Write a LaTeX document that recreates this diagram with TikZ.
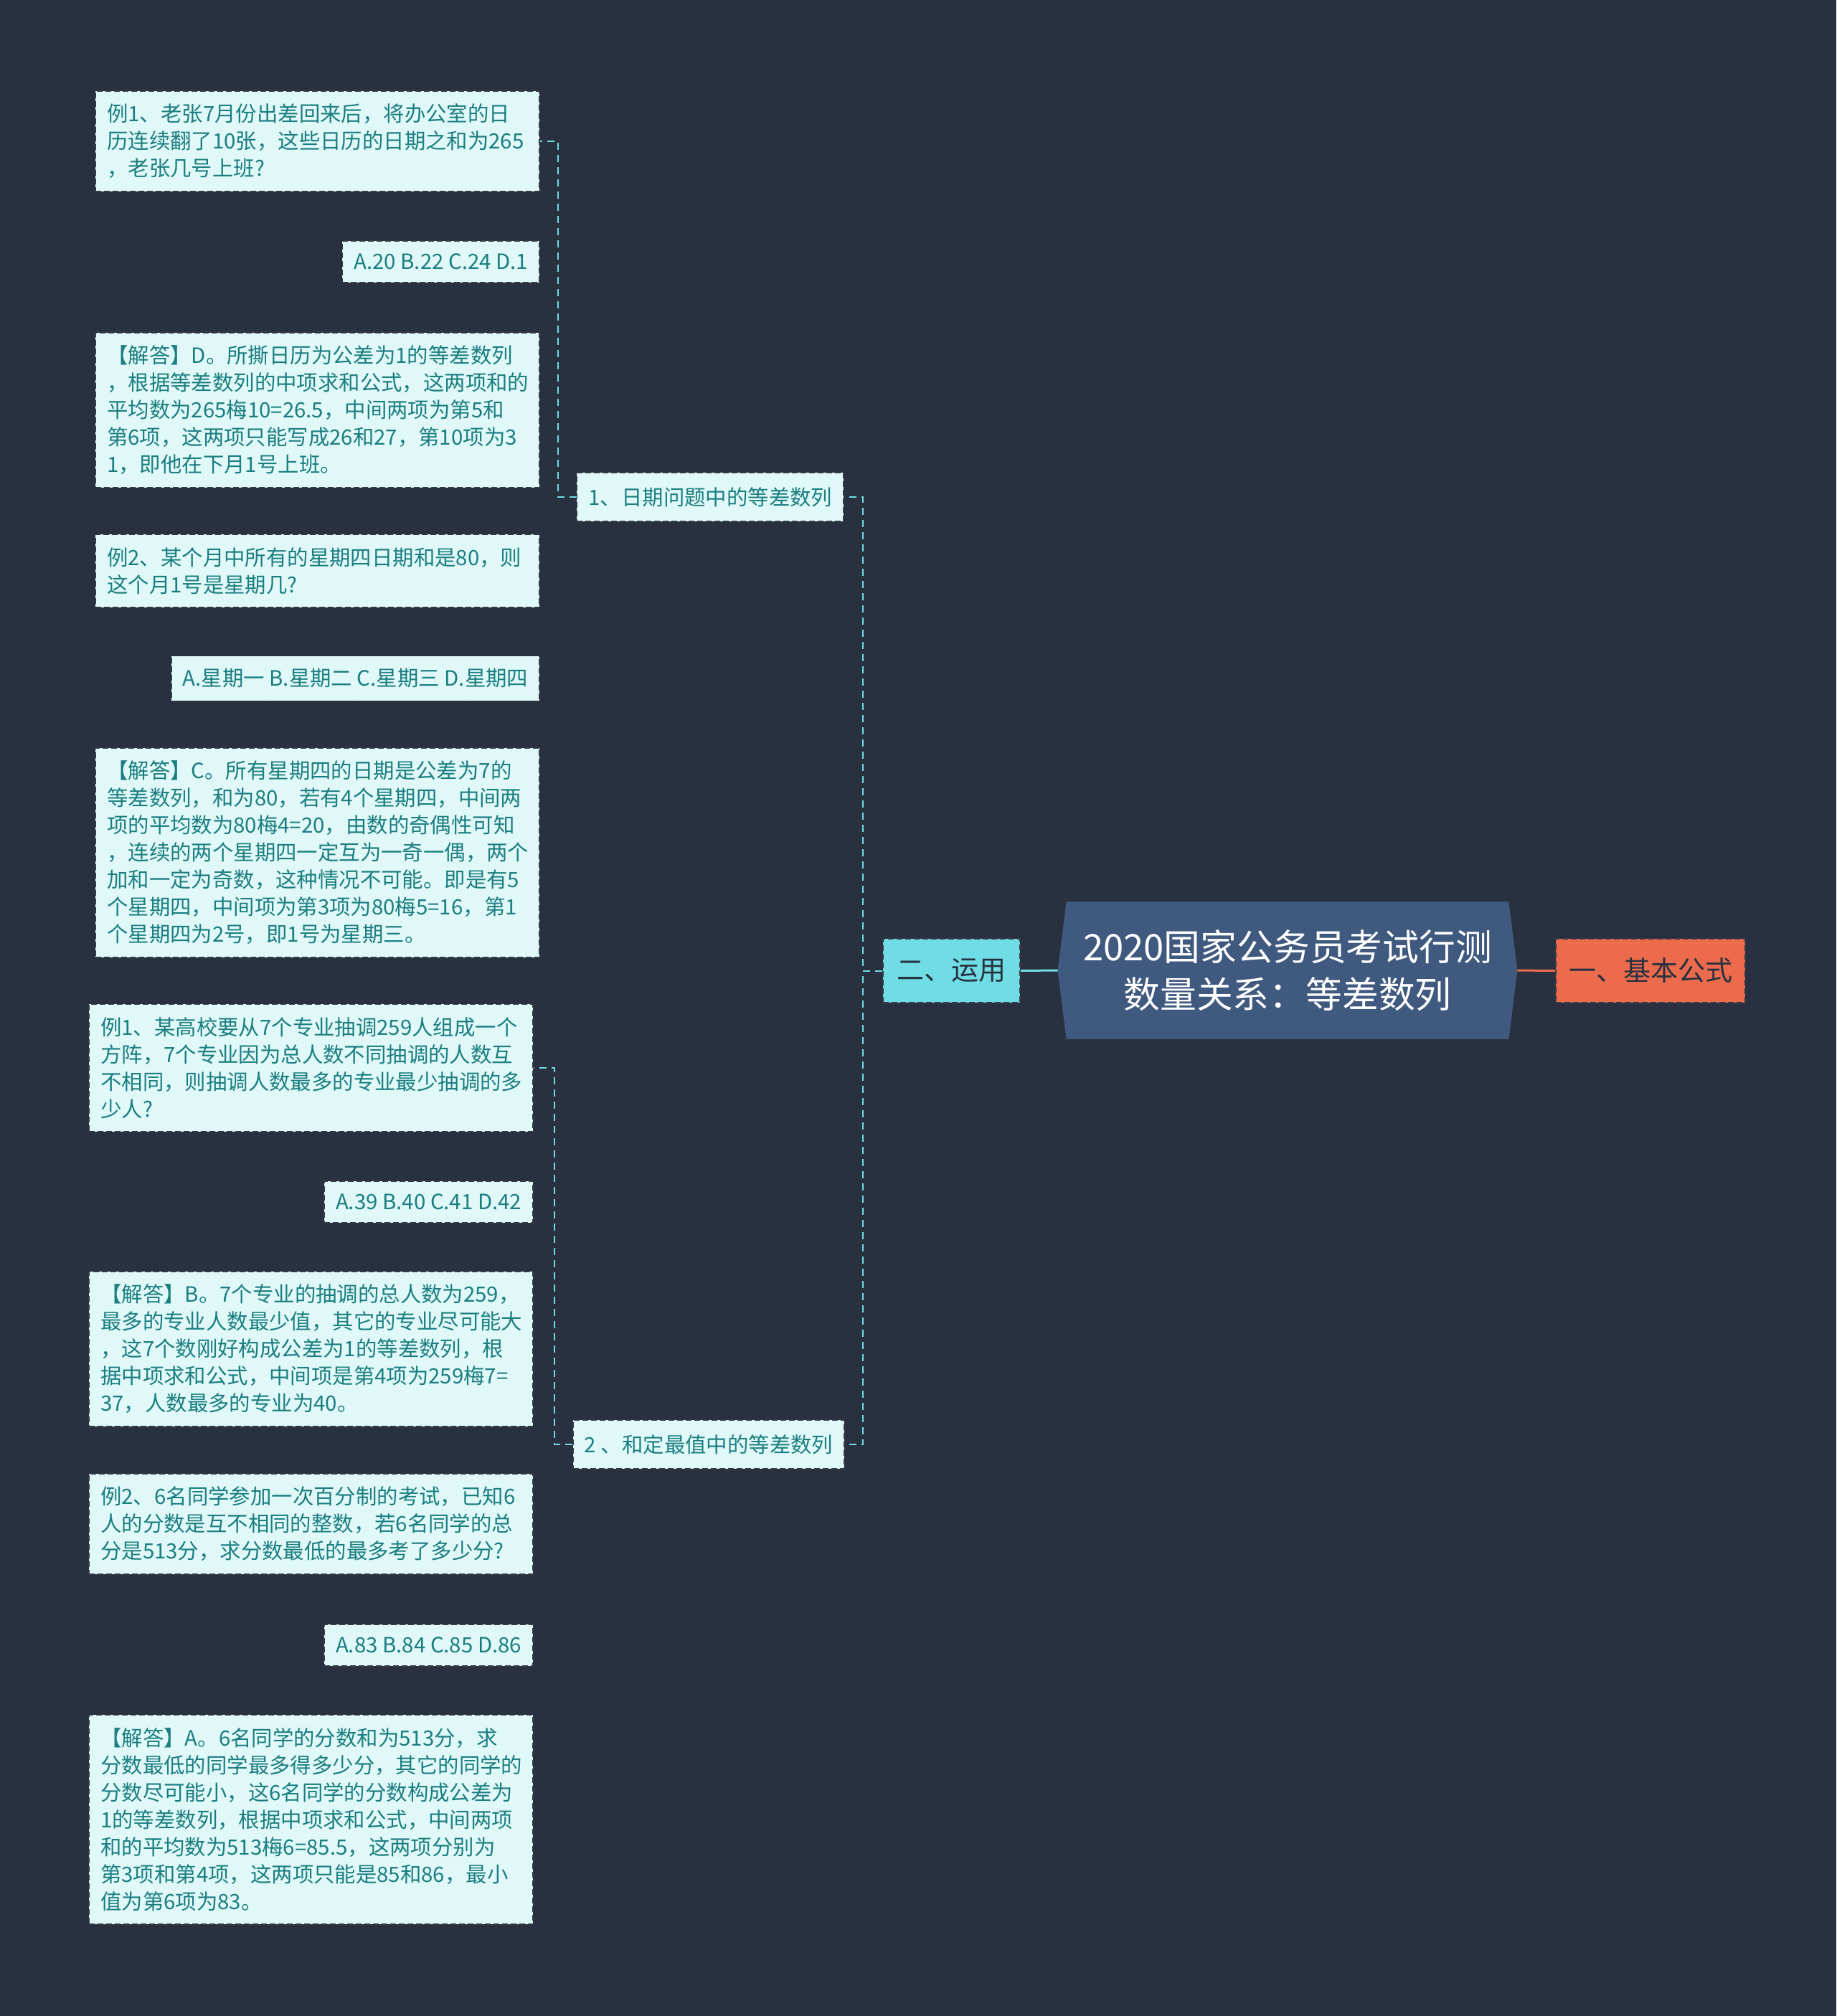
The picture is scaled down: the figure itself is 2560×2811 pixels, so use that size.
\documentclass[tikz,border=0pt]{standalone}
\usepackage{fontspec}
\setmainfont{Noto Sans CJK SC}
\usetikzlibrary{calc,backgrounds}

\definecolor{bgnavy}{RGB}{41,49,64}
\definecolor{rootblue}{RGB}{63,89,127}
\definecolor{armcyan}{RGB}{111,221,227}
\definecolor{armorange}{RGB}{237,107,77}
\definecolor{leaffill}{RGB}{224,248,248}
\definecolor{leaftext}{RGB}{27,126,128}
\definecolor{boxedge}{RGB}{52,58,70}

\tikzset{
  leaf/.style={draw=boxedge, line width=0.8pt, dash pattern=on 4pt off 2pt,
    fill=leaffill, text=leaftext, font=\fontsize{14.7pt}{19pt}\selectfont,
    align=left, inner xsep=8pt, inner ysep=9pt, anchor=east},
  wideleaf/.style={leaf, text width=293.5pt},
  sub/.style={leaf, minimum height=34pt},
  arm/.style={draw=boxedge, line width=0.8pt, dash pattern=on 4pt off 2pt,
    text=bgnavy, font=\fontsize{19pt}{24pt}\selectfont,
    minimum height=44.5pt},
  twig/.style={draw=armcyan, line width=1pt, dash pattern=on 5pt off 3.5pt},
  stem/.style={line width=1.5pt}
}

\begin{document}
\begin{tikzpicture}[x=0.5pt, y=-0.5pt]
		%%%%% START %%%%%
		
		\begin{pgfonlayer}{background}
		\fill[bgnavy] (0, 0) rectangle (2560, 2811);
		\end{pgfonlayer}
		
		% centre and the two arms
		\node[align=center, text=white, font=\fontsize{25.4pt}{33pt}\selectfont,
		  minimum width=308pt, minimum height=95.5pt] (title) at (1795, 1353)
		  {2020国家公务员考试行测\\数量关系：等差数列};
		\coordinate (tipL) at ($(title.west)+(-12,0)$);
		\coordinate (tipR) at ($(title.east)+(12,0)$);
		\begin{pgfonlayer}{background}
		\fill[rootblue] (title.north west) -- (title.north east) -- (tipR)
		  -- (title.south east) -- (title.south west) -- (tipL) -- cycle;
		\end{pgfonlayer}
		
		\node[arm, fill=armcyan, minimum width=95.5pt] (yong) at (1326.5, 1353.5) {二、运用};
		\node[arm, fill=armorange, minimum width=132pt] (gongshi) at (2301, 1353.5) {一、基本公式};
		
		\draw[stem, armcyan] (tipL) -- (yong.east);
		\draw[stem, armorange] (tipR) -- (gongshi.west);
		
		% second level
		\node[sub] (riqi) at (1177, 693) {1、日期问题中的等差数列};
		\node[sub] (heding) at (1178, 2014) {2 、和定最值中的等差数列};
		
		\draw[twig] (yong.west) -- ++(-27, 0) |- (riqi.east);
		\draw[twig] (yong.west) -- ++(-27, 0) |- (heding.east);
		
		% leaves under 1
		\node[wideleaf] (a1) at (753, 197) {例1、老张7月份出差回来后，将办公室的日\\历连续翻了10张，这些日历的日期之和为265\\，老张几号上班?};
		\node[leaf] (a2) at (753, 365) {A.20 B.22 C.24 D.1};
		\node[wideleaf] (a3) at (753, 572) {【解答】D。所撕日历为公差为1的等差数列\\，根据等差数列的中项求和公式，这两项和的\\平均数为265梅10=26.5，中间两项为第5和\\第6项，这两项只能写成26和27，第10项为3\\1，即他在下月1号上班。};
		\node[wideleaf] (a4) at (753, 796) {例2、某个月中所有的星期四日期和是80，则\\这个月1号是星期几?};
		\node[leaf] (a5) at (753, 946) {A.星期一 B.星期二 C.星期三 D.星期四};
		\node[wideleaf] (a6) at (753, 1189) {【解答】C。所有星期四的日期是公差为7的\\等差数列，和为80，若有4个星期四，中间两\\项的平均数为80梅4=20，由数的奇偶性可知\\，连续的两个星期四一定互为一奇一偶，两个\\加和一定为奇数，这种情况不可能。即是有5\\个星期四，中间项为第3项为80梅5=16，第1\\个星期四为2号，即1号为星期三。};
		
		\foreach \n in {a1,...,a6}
		  \draw[twig] (riqi.west) -- ++(-26, 0) |- (\n.east);
		
		% leaves under 2
		\node[wideleaf] (b1) at (744, 1489) {例1、某高校要从7个专业抽调259人组成一个\\方阵，7个专业因为总人数不同抽调的人数互\\不相同，则抽调人数最多的专业最少抽调的多\\少人?};
		\node[leaf] (b2) at (744, 1676) {A.39 B.40 C.41 D.42};
		\node[wideleaf] (b3) at (744, 1881) {【解答】B。7个专业的抽调的总人数为259，\\最多的专业人数最少值，其它的专业尽可能大\\，这7个数刚好构成公差为1的等差数列，根\\据中项求和公式，中间项是第4项为259梅7=\\37，人数最多的专业为40。};
		\node[wideleaf] (b4) at (744, 2125) {例2、6名同学参加一次百分制的考试，已知6\\人的分数是互不相同的整数，若6名同学的总\\分是513分，求分数最低的最多考了多少分?};
		\node[leaf] (b5) at (744, 2294) {A.83 B.84 C.85 D.86};
		\node[wideleaf] (b6) at (744, 2537) {【解答】A。6名同学的分数和为513分，求\\分数最低的同学最多得多少分，其它的同学的\\分数尽可能小，这6名同学的分数构成公差为\\1的等差数列，根据中项求和公式，中间两项\\和的平均数为513梅6=85.5，这两项分别为\\第3项和第4项，这两项只能是85和86，最小\\值为第6项为83。};
		
		\foreach \n in {b1,...,b6}
		  \draw[twig] (heding.west) -- ++(-25, 0) |- (\n.east);
		
		%%%%% END %%%%%
	\end{tikzpicture}
\end{document}
